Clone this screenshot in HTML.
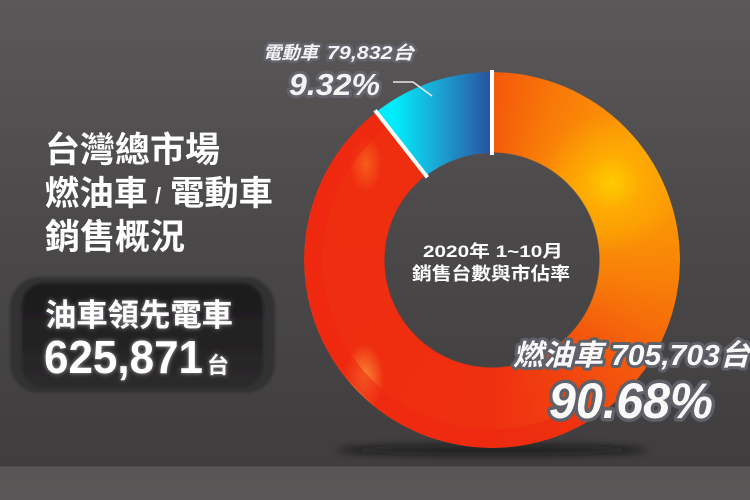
<!DOCTYPE html>
<html><head><meta charset="utf-8">
<style>
html,body{margin:0;padding:0;}
body{width:750px;height:500px;position:relative;overflow:hidden;
background:linear-gradient(to bottom,#5b5859 0px,#4b494a 220px,#3f3d3e 466px,#595556 467px,#5a5657 500px);
font-family:"Liberation Sans","Noto Sans CJK TC",sans-serif;}
#ring{position:absolute;left:304px;top:72px;width:376px;height:376px;border-radius:50%;
background:
 radial-gradient(circle at 308px 111px, rgba(255,206,0,0.95) 0px, rgba(255,185,0,0.55) 28px, rgba(255,160,0,0) 70px),
 radial-gradient(ellipse 20px 34px at 60px 306px, rgba(255,175,70,0.7) 0px, rgba(255,120,40,0) 100%),
 radial-gradient(ellipse 16px 28px at 62px 92px, rgba(255,150,40,0.45) 0px, rgba(255,120,40,0) 100%),
 conic-gradient(from 0deg at 50% 50%, #f4580b 0deg, #f87a08 22deg, #fc9c05 50deg, #fb9606 75deg, #f77c08 100deg, #f45c0c 125deg, #f1420f 150deg, #ef3010 180deg, #ef2d10 250deg, #ef2e10 322deg, rgba(0,0,0,0) 322deg);
-webkit-mask:radial-gradient(circle at 50% 50%, transparent 107px, #000 108px);
mask:radial-gradient(circle at 50% 50%, transparent 107px, #000 108px);}
svg{position:absolute;left:0;top:0;}
</style></head>
<body>
<svg width="750" height="500" viewBox="0 0 750 500" style="z-index:0">
 <defs>
  <filter id="sh" x="-20%" y="-200%" width="140%" height="500%"><feGaussianBlur stdDeviation="4"/></filter>
  <filter id="bx" x="-10%" y="-20%" width="120%" height="140%"><feGaussianBlur stdDeviation="1.2"/></filter>
  <linearGradient id="inner" x1="0" y1="0" x2="0" y2="1">
   <stop offset="0" stop-color="#1b1b1c"/><stop offset="0.6" stop-color="#242324"/><stop offset="1" stop-color="#2c2b2c"/>
  </linearGradient>
 </defs>
 <ellipse cx="492" cy="450" rx="155" ry="5" fill="#111" opacity="0.7" filter="url(#sh)"/>
 <rect x="10" y="277" width="265" height="116" rx="30" fill="#323031" filter="url(#bx)"/>
 <rect x="22" y="283" width="241" height="105" rx="22" fill="url(#inner)" filter="url(#bx)"/>
</svg>
<div id="ring"></div>
<svg width="750" height="500" viewBox="0 0 750 500" style="z-index:2">
 <defs>
  <linearGradient id="blue" gradientUnits="userSpaceOnUse" x1="395" y1="0" x2="490" y2="0">
   <stop offset="0" stop-color="#00ecfa"/><stop offset="0.45" stop-color="#1aa6d4"/><stop offset="1" stop-color="#2853a0"/>
  </linearGradient>
  <filter id="glow" x="-10%" y="-30%" width="120%" height="160%">
   <feGaussianBlur in="SourceAlpha" stdDeviation="2.5" result="b"/>
   <feFlood flood-color="#ffffff" flood-opacity="0.55"/>
   <feComposite in2="b" operator="in" result="g"/>
   <feMerge><feMergeNode in="g"/><feMergeNode in="SourceGraphic"/></feMerge>
  </filter>
 </defs>
 <path d="M 585.8 422.8 A 188 188 0 0 1 376.3 111.9 L 387.9 126.8 A 169 169 0 0 0 576.5 406.4 Z" fill="#ec2610" opacity="0.55"/>
 <path d="M376.3,111.9 A188,188 0 0,1 492,72 L492,153 A107,107 0 0,0 426.1,175.7 Z" fill="url(#blue)"/>
 <line x1="492" y1="70" x2="492" y2="155" stroke="#fff" stroke-width="4"/>
 <line x1="375" y1="110.3" x2="427.4" y2="177.3" stroke="#fff" stroke-width="4"/>
 <polyline points="393,82 413,82 432,96" fill="none" stroke="#e8e8e8" stroke-width="1.6"/>

 <g fill="#fff" font-weight="bold" font-family="'Liberation Sans','Noto Sans CJK TC',sans-serif">
  <text x="45" y="162" font-size="35" textLength="175" lengthAdjust="spacingAndGlyphs">台灣總市場</text>
  <text x="45" y="205" font-size="34" textLength="103" lengthAdjust="spacingAndGlyphs">燃油車</text>
  <text x="155" y="203" font-size="22">/</text>
  <text x="170" y="205" font-size="34" textLength="103" lengthAdjust="spacingAndGlyphs">電動車</text>
  <text x="45" y="249" font-size="35" textLength="140" lengthAdjust="spacingAndGlyphs">銷售概況</text>
 </g>
 <g fill="#fff" font-weight="bold" filter="url(#glow)" font-family="'Liberation Sans','Noto Sans CJK TC',sans-serif">
  <text x="45" y="326" font-size="31" textLength="188" lengthAdjust="spacingAndGlyphs">油車領先電車</text>
  <text x="44" y="373" font-size="46" textLength="159" lengthAdjust="spacingAndGlyphs">625,871</text>
  <text x="207" y="373" font-size="22">台</text>
 </g>
 <g fill="#fff" font-weight="bold" font-family="'Liberation Sans','Noto Sans CJK TC',sans-serif">
  <text x="423" y="257" font-size="17" textLength="140" lengthAdjust="spacingAndGlyphs">2020年 1~10月</text>
  <text x="412" y="280" font-size="18" textLength="158" lengthAdjust="spacingAndGlyphs">銷售台數與市佔率</text>
 </g>
 <g fill="#f4f4f4" stroke="#64636b" stroke-linejoin="round" paint-order="stroke" font-style="italic" font-family="'Liberation Sans','Noto Sans CJK TC',sans-serif">
  <text x="263" y="59" font-size="18" font-weight="bold" stroke-width="5" textLength="55" lengthAdjust="spacingAndGlyphs">電動車</text>
  <text x="327" y="59" font-size="18" font-weight="bold" stroke-width="5" textLength="87" lengthAdjust="spacingAndGlyphs">79,832台</text>
  <text x="289" y="95" font-size="31" font-weight="bold" stroke-width="6" textLength="91" lengthAdjust="spacingAndGlyphs">9.32%</text>
 </g>
 <g fill="#fafafa" stroke="#5f6068" stroke-linejoin="round" paint-order="stroke" font-style="italic" font-weight="bold" font-family="'Liberation Sans','Noto Sans CJK TC',sans-serif">
  <text x="513" y="365" font-size="29" stroke-width="6" textLength="90" lengthAdjust="spacingAndGlyphs">燃油車</text>
  <text x="611" y="365" font-size="29" stroke-width="6" textLength="139" lengthAdjust="spacingAndGlyphs">705,703台</text>
  <text x="549" y="418" font-size="50" stroke-width="7" textLength="164" lengthAdjust="spacingAndGlyphs">90.68%</text>
 </g>
</svg>
</body></html>
